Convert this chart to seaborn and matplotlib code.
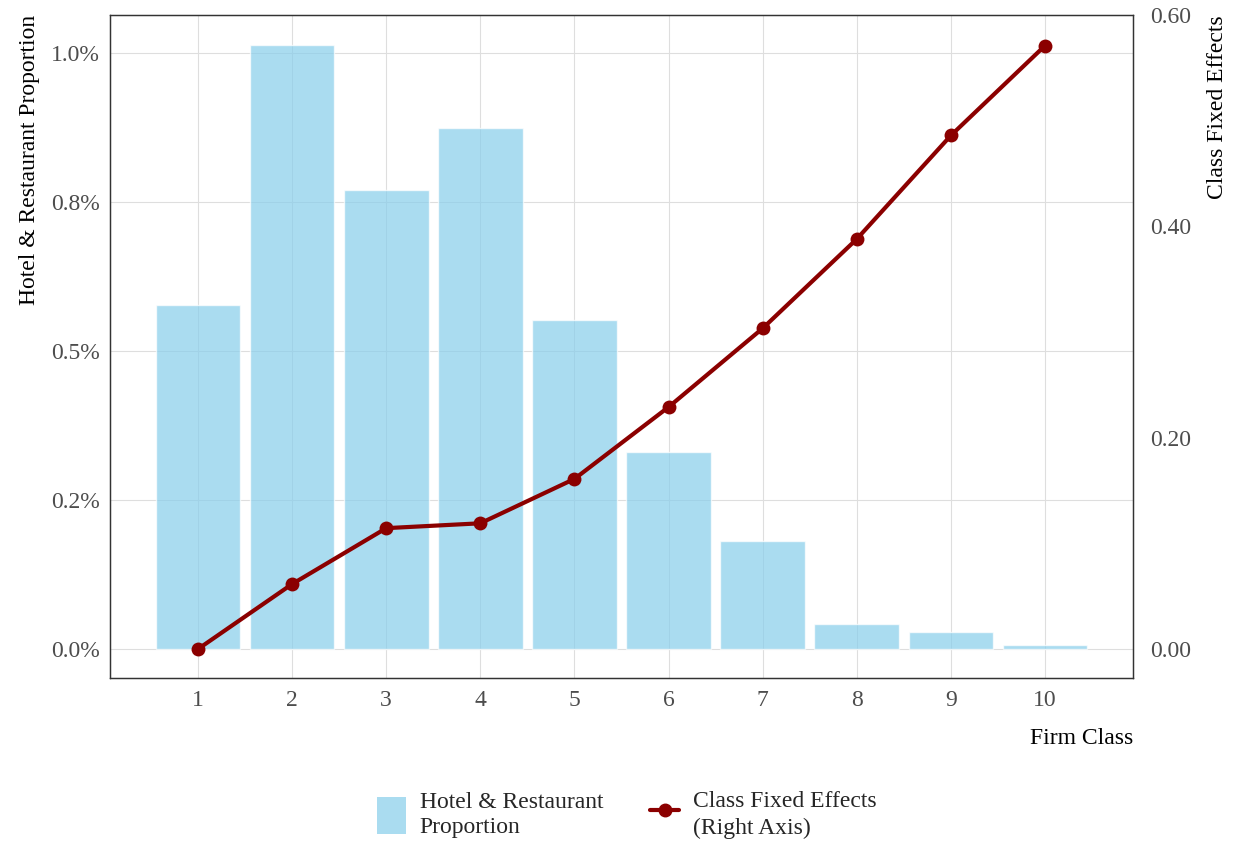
import matplotlib
matplotlib.use("Agg")
import matplotlib.pyplot as plt
import pandas as pd
import seaborn as sns
from matplotlib.lines import Line2D
from matplotlib.patches import Patch

# ── Data ────────────────────────────────────────────────────────────────────
firm_class = [1, 2, 3, 4, 5, 6, 7, 8, 9, 10]
hotel_share = [0.577, 1.013, 0.770, 0.874, 0.552, 0.331, 0.181, 0.042, 0.029, 0.007]  # percent
fixed_effects = [0.0, 0.0615, 0.1144, 0.119, 0.161, 0.229, 0.3035, 0.388, 0.486, 0.571]
left_ticks = [0.0, 0.25, 0.5, 0.75, 1.0]
left_labels = ["0.0%", "0.2%", "0.5%", "0.8%", "1.0%"]
right_ticks = [0.0, 0.2, 0.4, 0.6]
right_labels = ["0.00", "0.20", "0.40", "0.60"]

df = pd.DataFrame({"cls": firm_class, "share": hotel_share, "fe": fixed_effects})

# ── Style ───────────────────────────────────────────────────────────────────
sns.set_theme(style="white")
plt.rcParams["font.family"] = ["Liberation Serif", "DejaVu Serif"]
BAR = "#87CEEB"
LINE = "#8B0000"
GRID = "#DEDEDE"
TICK = "#4D4D4D"

fig = plt.figure(figsize=(12.34, 8.42), dpi=100)
ax = fig.add_axes([110 / 1234, 1 - 678 / 842, 1023 / 1234, 663 / 842])

sns.barplot(data=df, x="cls", y="share", native_scale=True, width=0.9,
            color=BAR, alpha=0.7, saturation=1, ax=ax, zorder=2)
ax.set_xlim(0.065, 10.935)
ax.set_ylim(-0.0487, 1.0638)
ax.set_xticks(firm_class)
ax.set_xticklabels([str(c) for c in firm_class])
ax.set_yticks(left_ticks)
ax.set_yticklabels(left_labels)
ax.grid(True, color=GRID, linewidth=0.8, zorder=0)
ax.set_axisbelow(True)
ax.tick_params(axis="both", length=0, labelsize=17, labelcolor=TICK)
ax.tick_params(axis="x", pad=9)
ax.tick_params(axis="y", pad=7)
ax.set_xlabel("Firm Class", fontsize=17, color="black", loc="right", labelpad=12)
ax.set_ylabel("Hotel & Restaurant Proportion", fontsize=17, color="black",
              loc="top", labelpad=8)

ax2 = ax.twinx()
sns.lineplot(data=df, x="cls", y="fe", color=LINE, linewidth=3, marker="o",
             markersize=10, markeredgewidth=0, ax=ax2, zorder=3)
ax2.set_ylim(-0.0274, 0.5995)
ax2.set_yticks(right_ticks)
ax2.set_yticklabels(right_labels)
ax2.tick_params(axis="y", length=0, labelsize=17, labelcolor=TICK, pad=12)
ax2.set_ylabel("Class Fixed Effects", fontsize=17, color="black", loc="top",
               labelpad=12)
ax2.grid(False)

for a in (ax, ax2):
    for side in ("left", "right", "top", "bottom"):
        a.spines[side].set_color("#333333")
        a.spines[side].set_linewidth(0.9)

handles = [
    Patch(facecolor=BAR, alpha=0.7, edgecolor="none",
          label="Hotel & Restaurant\nProportion"),
    Line2D([0], [0], color=LINE, linewidth=3, marker="o", markersize=9,
           label="Class Fixed Effects\n(Right Axis)"),
]
leg = fig.legend(handles=handles, loc="center",
                 bbox_to_anchor=(0.508, 1 - 815 / 842), ncol=2, frameon=False,
                 fontsize=17, handlelength=1.2, handleheight=2.0,
                 handletextpad=0.6, columnspacing=2.0)
for t in leg.get_texts():
    t.set_linespacing(1.3)

fig.savefig("out.png", dpi=100)
